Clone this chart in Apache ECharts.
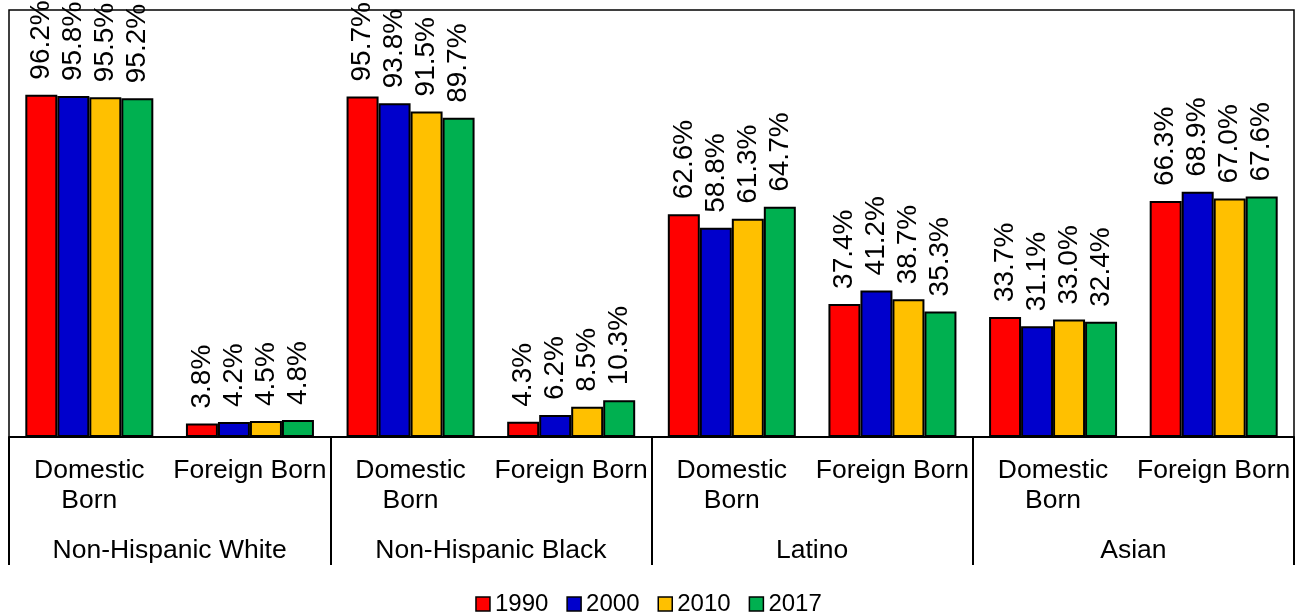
<!DOCTYPE html>
<html>
<head>
<meta charset="utf-8">
<script src="https://cdn.jsdelivr.net/npm/echarts@6/dist/echarts.min.js"></script>
<style>
  html, body { margin: 0; padding: 0; background: #fff; }
  #chart { width: 1297px; height: 614px; }
</style>
</head>
<body>
<div id="chart"></div>
<script>
// Nativity share by race/ethnicity, per census year
const groups = ['Non-Hispanic White', 'Non-Hispanic Black', 'Latino', 'Asian'];
const subCategories = ['Domestic\nBorn', 'Foreign Born', 'Domestic\nBorn', 'Foreign Born',
                       'Domestic\nBorn', 'Foreign Born', 'Domestic\nBorn', 'Foreign Born'];
const years = ['1990', '2000', '2010', '2017'];
const y1990 = [96.2, 3.8, 95.7, 4.3, 62.6, 37.4, 33.7, 66.3];
const y2000 = [95.8, 4.2, 93.8, 6.2, 58.8, 41.2, 31.1, 68.9];
const y2010 = [95.5, 4.5, 91.5, 8.5, 61.3, 38.7, 33.0, 67.0];
const y2017 = [95.2, 4.8, 89.7, 10.3, 64.7, 35.3, 32.4, 67.6];
const colors = ['#FF0000', '#0000CC', '#FFC000', '#00B050'];

const seriesValues = [y1990, y2000, y2010, y2017];
const fontFamily = 'Liberation Sans, Arial, sans-serif';

const chart = echarts.init(document.getElementById('chart'), null, { renderer: 'canvas' });

chart.setOption({
  animation: false,
  textStyle: { fontFamily: fontFamily, color: '#000' },
  grid: {
    left: 9, right: 3, top: 10, bottom: 177,
    show: true, borderColor: '#000', borderWidth: 1.5, backgroundColor: 'transparent'
  },
  legend: {
    top: 587,
    left: 'center',
    icon: 'rect',
    itemWidth: 14,
    itemHeight: 14,
    itemGap: 18,
    data: years,
    itemStyle: { borderColor: '#000', borderWidth: 1.5 },
    textStyle: { fontSize: 24, color: '#000', fontFamily: fontFamily }
  },
  xAxis: [
    {
      type: 'category',
      data: subCategories,
      position: 'bottom',
      axisLine: { show: true, lineStyle: { color: '#000', width: 2 } },
      axisTick: { show: false },
      axisLabel: {
        interval: 0,
        fontSize: 26.5,
        lineHeight: 30,
        color: '#000',
        margin: 19,
        fontFamily: fontFamily
      }
    },
    {
      type: 'category',
      data: groups,
      position: 'bottom',
      axisLine: { show: false },
      axisTick: {
        show: true, interval: 0, alignWithLabel: false, length: 128,
        lineStyle: { color: '#000', width: 2 }
      },
      axisLabel: {
        interval: 0,
        fontSize: 26.5,
        lineHeight: 30,
        color: '#000',
        margin: 99,
        fontFamily: fontFamily
      }
    }
  ],
  yAxis: {
    type: 'value',
    min: 0,
    max: 120,
    show: false,
    splitLine: { show: false }
  },
  series: years.map((yr, i) => ({
    name: yr,
    type: 'bar',
    xAxisIndex: 0,
    data: seriesValues[i],
    barWidth: 32,
    barGap: '0%',
    itemStyle: { color: colors[i], borderColor: '#000', borderWidth: 2 },
    label: {
      show: true,
      position: 'top',
      rotate: 90,
      align: 'left',
      verticalAlign: 'middle',
      distance: 15,
      fontSize: 28,
      color: '#000',
      fontFamily: fontFamily,
      formatter: p => p.value.toFixed(1) + '%'
    }
  }))
});
</script>
</body>
</html>
